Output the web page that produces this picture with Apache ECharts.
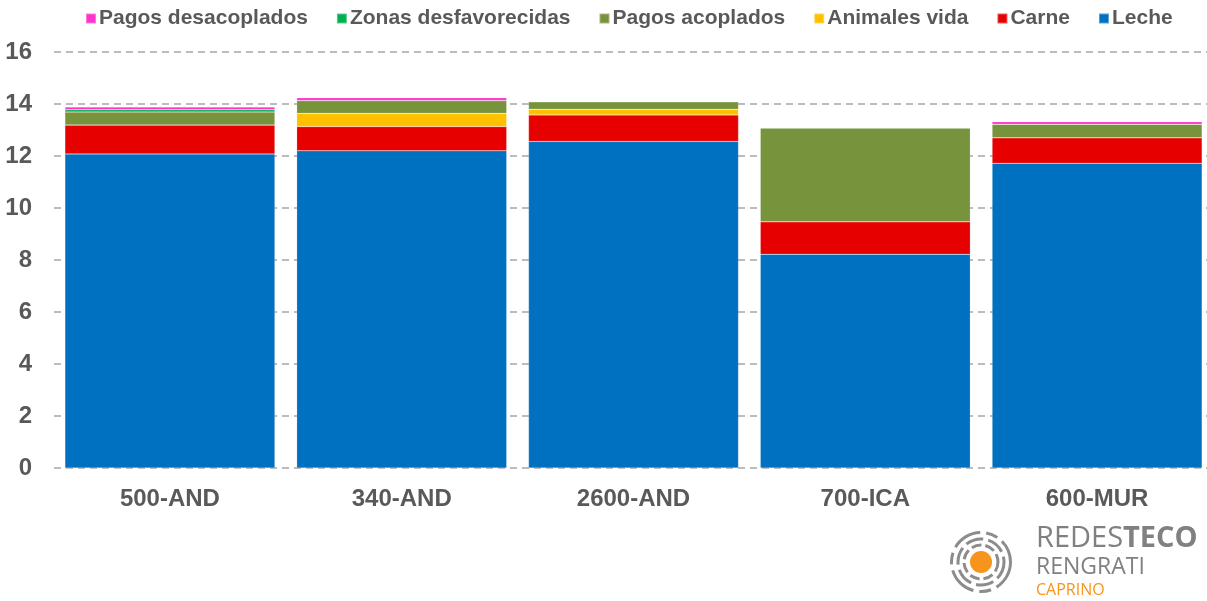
<!DOCTYPE html>
<html>
<head>
<meta charset="utf-8">
<script src="https://cdn.jsdelivr.net/npm/echarts@6/dist/echarts.min.js"></script>
<style>
  html, body { margin: 0; padding: 0; background: #fff; overflow: hidden; }
  #chart { width: 1213px; height: 601px; }
</style>
</head>
<body>
<div id="chart"></div>
<script>
  // categorias y valores
  var categories = ['500-AND', '340-AND', '2600-AND', '700-ICA', '600-MUR']
  var leche = [12.08, 12.20, 12.56, 8.22, 11.72]
  var carne = [1.11, 0.93, 1.02, 1.25, 0.98]
  var animalesVida = [0, 0.51, 0.22, 0, 0]
  var pagosAcoplados = [0.50, 0.49, 0.29, 3.61, 0.52]
  var zonasDesfavorecidas = [0.09, 0, 0, 0, 0]
  var pagosDesacoplados = [0.10, 0.11, 0, 0, 0.10]
  var yTicks = [0, 2, 4, 6, 8, 10, 12, 14, 16]

  var legendOrder = ['Pagos desacoplados', 'Zonas desfavorecidas', 'Pagos acoplados', 'Animales vida', 'Carne', 'Leche']

  function serie(name, data, color) {
    return {
      name: name,
      type: 'bar',
      stack: 'total',
      barWidth: 210,
      data: data,
      itemStyle: { color: color, borderColor: 'rgba(255,255,255,0.35)', borderWidth: 0.5 }
    }
  }

  var chart = echarts.init(document.getElementById('chart'))
  chart.setOption({
    animation: false,
    textStyle: { fontFamily: 'Liberation Sans, Arial, sans-serif' },
    legend: {
      data: legendOrder,
      top: 3,
      left: 80,
      itemWidth: 10,
      itemHeight: 10,
      itemGap: 28,
      icon: 'rect',
      textStyle: { fontSize: 21, fontWeight: 'bold', color: '#595959', padding: [0, 0, 0, -2] }
    },
    grid: { left: 54, top: 52, right: 0, height: 416 },
    xAxis: {
      type: 'category',
      data: categories,
      axisLine: { show: false },
      axisTick: { show: false },
      axisLabel: { fontSize: 24, fontWeight: 'bold', color: '#595959', margin: 19 }
    },
    yAxis: {
      type: 'value',
      min: yTicks[0],
      max: yTicks[yTicks.length - 1],
      interval: 2,
      axisLine: { show: false },
      axisTick: { show: false },
      axisLabel: { fontSize: 24, fontWeight: 'bold', color: '#595959', margin: 22 },
      splitLine: { lineStyle: { color: '#a6a6a6', width: 1.5, type: [7, 5] } }
    },
    series: [
      serie('Leche', leche, '#0070c0'),
      serie('Carne', carne, '#e60000'),
      serie('Animales vida', animalesVida, '#ffc000'),
      serie('Pagos acoplados', pagosAcoplados, '#77933c'),
      serie('Zonas desfavorecidas', zonasDesfavorecidas, '#00b050'),
      serie('Pagos desacoplados', pagosDesacoplados, '#ff33cc')
    ],
    graphic: [
      { type: 'circle', shape: { cx: 981, cy: 562, r: 11 }, style: { fill: '#f7941d' } },
      { type: 'circle', shape: { cx: 981, cy: 562, r: 17 }, style: { fill: 'none', stroke: '#8c8c8c', lineWidth: 3, lineDash: [10, 4] } },
      { type: 'circle', shape: { cx: 981, cy: 562, r: 23 }, style: { fill: 'none', stroke: '#8c8c8c', lineWidth: 3, lineDash: [18, 5] } },
      { type: 'circle', shape: { cx: 981, cy: 562, r: 29.5 }, style: { fill: 'none', stroke: '#8c8c8c', lineWidth: 3, lineDash: [30, 6, 12, 6] } },
      {
        type: 'text', left: 1036, top: 524,
        style: {
          text: '{a|REDES}{b|TECO}',
          rich: {
            a: { fontSize: 29, fontWeight: 'normal', fill: '#808080', fontFamily: 'Open Sans, sans-serif' },
            b: { fontSize: 29, fontWeight: 'bold', fill: '#808080', fontFamily: 'Open Sans, sans-serif' }
          }
        }
      },
      { type: 'text', left: 1036, top: 556, style: { text: 'RENGRATI', fontSize: 23, fill: '#808080', fontFamily: 'Open Sans, sans-serif' } },
      { type: 'text', left: 1036, top: 582, style: { text: 'CAPRINO', fontSize: 16, fill: '#f7941d', fontFamily: 'Open Sans, sans-serif' } }
    ]
  })
</script>
</body>
</html>
